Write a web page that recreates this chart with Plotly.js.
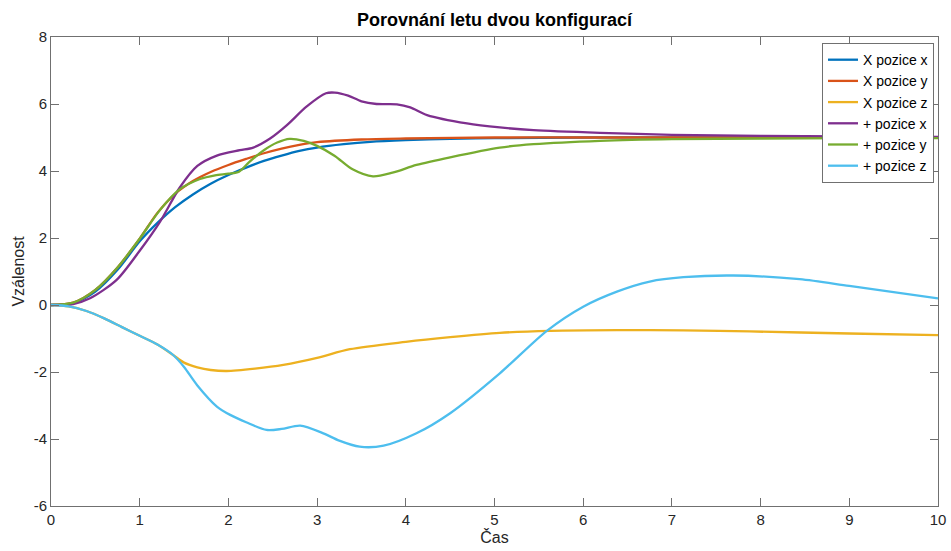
<!DOCTYPE html>
<html>
<head>
<meta charset="utf-8">
<script src="https://cdn.plot.ly/plotly-3.0.1.min.js"></script>
<style>html,body{margin:0;padding:0;background:#fff;}#chart{width:951px;height:551px;}</style>
</head>
<body>
<div id="chart"></div>
<script>
// X configuration
const tXx = [0,0.25,0.5,0.75,1.0,1.2,1.4,1.6,1.8,2.0,2.2,2.4,2.6,2.8,3.0,3.3,3.6,4.0,4.5,5,6,7,8,9,10];
const yXx = [0,0.06,0.4,1.05,1.9,2.45,2.92,3.3,3.62,3.88,4.1,4.3,4.46,4.6,4.7,4.8,4.87,4.92,4.96,4.98,5.0,5.0,5.0,5.0,5.0];

const tXy = [0,0.25,0.5,0.75,1.0,1.2,1.4,1.6,1.8,2.0,2.2,2.4,2.6,2.8,3.0,3.5,4,5,6,7,8,9,10];
const yXy = [0,0.07,0.45,1.12,1.98,2.75,3.32,3.7,3.97,4.18,4.36,4.53,4.67,4.78,4.86,4.94,4.97,5.0,5.0,5.0,5.0,5.0,5.0];

const tXz = [0,0.2,0.4,0.6,0.8,1.0,1.2,1.38,1.5,1.65,1.8,1.98,2.3,2.62,3.0,3.37,4.0,4.5,5.06,5.63,6.38,7.13,7.88,9,10];
const yXz = [0,-0.04,-0.18,-0.4,-0.66,-0.92,-1.18,-1.5,-1.72,-1.86,-1.94,-1.97,-1.9,-1.79,-1.58,-1.32,-1.1,-0.96,-0.83,-0.77,-0.75,-0.76,-0.79,-0.85,-0.9];

// + configuration
const tPx = [0,0.25,0.44,0.74,1.0,1.23,1.45,1.65,1.87,2.13,2.28,2.47,2.66,2.88,3.1,3.2,3.35,3.5,3.67,3.9,4.05,4.24,4.69,5.06,5.44,6.19,7,8,9,10];
const yPx = [0,0.03,0.2,0.75,1.62,2.49,3.5,4.15,4.46,4.62,4.7,4.97,5.37,5.92,6.32,6.34,6.25,6.08,6.0,5.99,5.9,5.67,5.42,5.3,5.22,5.14,5.08,5.05,5.03,5.02];

const tPy = [0,0.25,0.5,0.75,1.0,1.23,1.45,1.68,1.85,2.0,2.12,2.24,2.4,2.55,2.69,2.85,3.0,3.2,3.4,3.63,3.85,4.12,4.5,5.06,5.44,6.19,7,8,9,10];
const yPy = [0,0.07,0.45,1.12,1.98,2.84,3.45,3.76,3.87,3.92,3.98,4.28,4.62,4.85,4.96,4.9,4.75,4.45,4.05,3.84,3.95,4.18,4.41,4.7,4.8,4.9,4.95,4.97,4.98,4.98];

const tPz = [0,0.2,0.4,0.6,0.8,1.0,1.2,1.38,1.5,1.65,1.87,2.02,2.2,2.43,2.6,2.81,3.07,3.25,3.48,3.75,4.12,4.5,5.06,5.59,6.0,6.38,6.75,7.13,7.69,8.44,9.0,10];
const yPz = [0,-0.04,-0.18,-0.4,-0.66,-0.92,-1.18,-1.5,-1.85,-2.4,-3.03,-3.28,-3.5,-3.73,-3.7,-3.6,-3.83,-4.05,-4.23,-4.2,-3.83,-3.23,-2.04,-0.77,-0.05,0.4,0.7,0.83,0.88,0.77,0.57,0.2];

const names = ['X pozice x','X pozice y','X pozice z','+ pozice x','+ pozice y','+ pozice z'];
const colors = ['#0072BD','#D95319','#EDB120','#7E2F8E','#77AC30','#4DBEEE'];
const series = [[tXx,yXx],[tXy,yXy],[tXz,yXz],[tPx,yPx],[tPy,yPy],[tPz,yPz]];

const xTicks = [0,1,2,3,4,5,6,7,8,9,10];
const yTicks = [-6,-4,-2,0,2,4,6,8];

const font = 'Liberation Sans, Arial, Helvetica, sans-serif';

const traces = series.map((s,i)=>({
  x: s[0], y: s[1], name: names[i], type:'scatter', mode:'lines',
  line:{color:colors[i], width:2.3, shape:'spline', smoothing:0.8}
}));

const axisCommon = {
  showgrid:false, zeroline:false, showline:true, linecolor:'#707070', linewidth:1,
  mirror:'ticks', ticks:'inside', ticklen:8, tickcolor:'#707070', tickwidth:1,
  tickfont:{family:font, size:15, color:'#262626'}
};

const layout = {
  width:951, height:551,
  margin:{l:51, r:13, t:37, b:45},
  paper_bgcolor:'#fff', plot_bgcolor:'#fff',
  title:{text:'<b>Porovnání letu dvou konfigurací</b>', font:{family:font, size:18, color:'#000'},
         x:0.52, xanchor:'center', y:1-20/551, yanchor:'middle'},
  xaxis:Object.assign({}, axisCommon, {range:[0,10], tickvals:xTicks, ticktext:xTicks.map(String),
         title:{text:'Čas', font:{family:font, size:16, color:'#262626'}, standoff:4}}),
  yaxis:Object.assign({}, axisCommon, {range:[-6,8], tickvals:yTicks, ticktext:yTicks.map(String),
         title:{text:'Vzálenost', font:{family:font, size:16, color:'#262626'}, standoff:5}}),
  legend:{x:0.9955, xanchor:'right', y:0.987, yanchor:'top', bgcolor:'#fff',
          bordercolor:'#707070', borderwidth:1, font:{family:font, size:14, color:'#000'},
          tracegroupgap:0},
  showlegend:true
};

Plotly.newPlot('chart', traces, layout, {staticPlot:true, displayModeBar:false});
</script>
</body>
</html>
